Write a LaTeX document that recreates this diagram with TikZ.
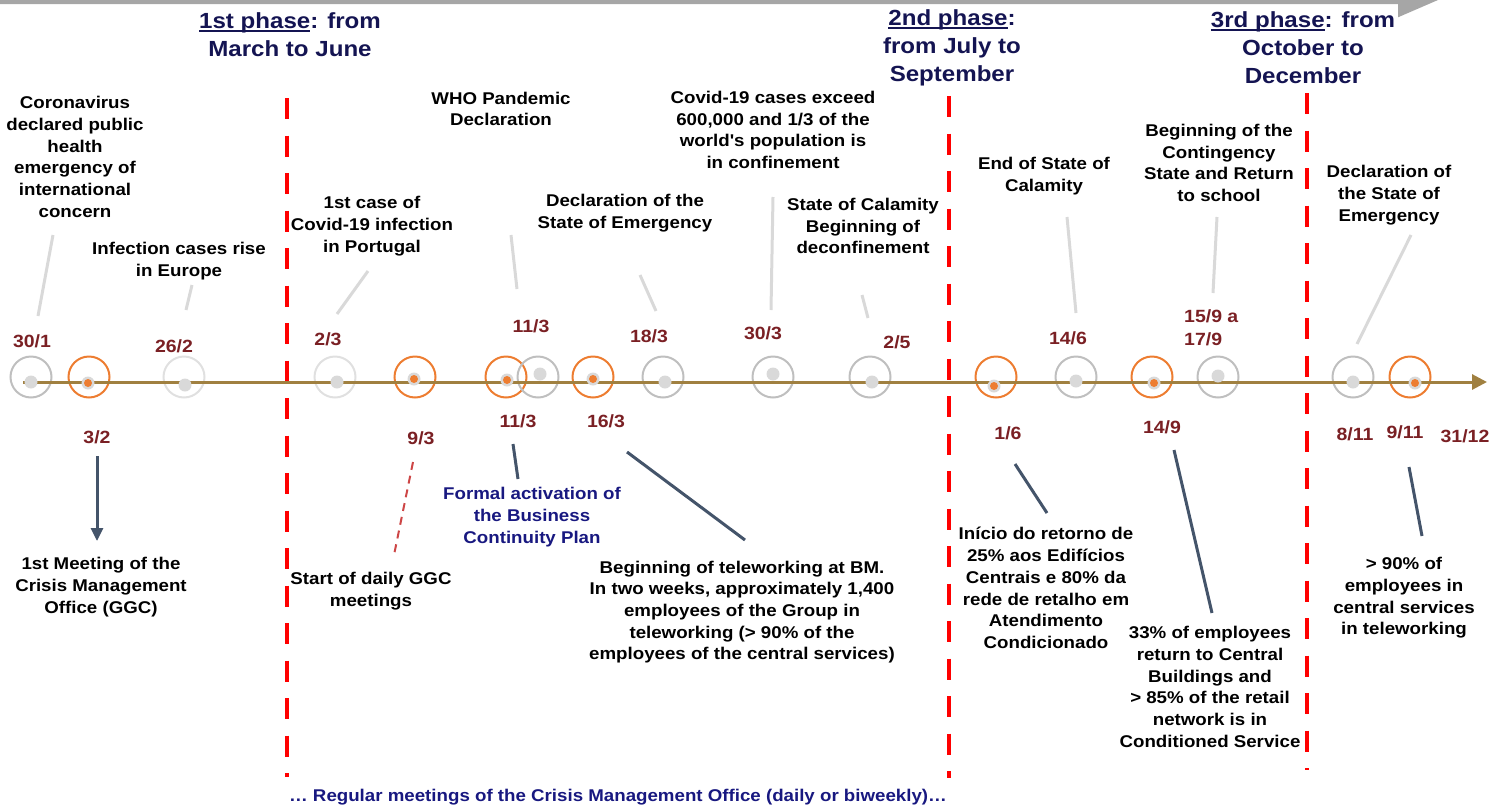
\documentclass[tikz,border=0pt]{standalone}
\usepackage{fontspec}
\setmainfont{Liberation Sans}
\newfontfamily\lab{Liberation Sans}[FakeStretch=1.1]
\usetikzlibrary{arrows.meta}
\newsavebox{\ulbox}
\newcommand\phul[1]{\sbox{\ulbox}{#1}\rlap{\rule[-3.5pt]{\wd\ulbox}{2pt}}\usebox{\ulbox}}
\definecolor{navy}{RGB}{20,20,82}
\definecolor{bluetxt}{RGB}{24,24,128}
\definecolor{datered}{RGB}{122,32,36}
\definecolor{ringgray}{RGB}{191,191,191}
\definecolor{lightring}{RGB}{224,224,224}
\definecolor{dotgray}{RGB}{217,217,217}
\definecolor{orng}{RGB}{237,125,49}
\definecolor{olive}{RGB}{160,128,64}
\definecolor{slate}{RGB}{68,84,106}
\definecolor{dashred}{RGB}{205,70,70}
\definecolor{bargray}{RGB}{166,166,166}
\begin{document}
\begin{tikzpicture}[x=1pt,y=-1pt,
  lbl/.style={font=\lab\bfseries\fontsize{17}{21.7}\selectfont, align=center, inner sep=0, text=black},
  bluelbl/.style={lbl, text=bluetxt},
  datelbl/.style={font=\lab\bfseries\fontsize{17.7}{23}\selectfont, text=datered, inner sep=0, align=left},
  phase/.style={font=\lab\bfseries\fontsize{21.9}{28}\selectfont, text=navy, align=center, inner sep=0},
  ring/.style={circle, draw=ringgray, line width=2pt, minimum size=41pt, inner sep=0},
  oring/.style={ring, draw=orng},
  lring/.style={ring, draw=lightring},
  phaseline/.style={red, line width=4pt, dash pattern=on 21pt off 16.5pt},
  lightcon/.style={dotgray, line width=3pt},
  darkcon/.style={slate, line width=3pt}
]
\useasboundingbox (0,0) rectangle (1502,809);
% top bar
\fill[bargray] (0,0) -- (1438,0) -- (1398,17.3) -- (1398,4) -- (0,4) -- cycle;

% phase titles
\node[phase] (ph1) at (290,35) {\phul{1st phase}: from\\March to June};
\node[phase] (ph2) at (952,48) {\phul{2nd phase}:\\from July to\\September};
\node[phase] (ph3) at (1303,48) {\phul{3rd phase}: from\\October to\\December};

% phase separators
\coordinate (s1a) at (287,98);  \coordinate (s1b) at (287,777);
\coordinate (s2a) at (949,96);  \coordinate (s2b) at (949,778);
\coordinate (s3a) at (1307,93); \coordinate (s3b) at (1307,770);
\draw[phaseline] (s1a) -- (s1b);
\draw[phaseline] (s2a) -- (s2b);
\draw[phaseline] (s3a) -- (s3b);

% rings
\node[ring]  (c1)  at (31,377) {};
\node[oring] (c2)  at (89,377) {};
\node[lring] (c3)  at (184,377) {};
\node[lring] (c4)  at (335,377) {};
\node[oring] (c5)  at (415,377) {};
\node[oring] (c6)  at (506,377) {};
\node[ring]  (c7)  at (538,377) {};
\node[oring] (c8)  at (593,377) {};
\node[ring]  (c9)  at (663,377) {};
\node[ring]  (c10) at (773,377) {};
\node[ring]  (c11) at (870,377) {};
\node[oring] (c12) at (996,377) {};
\node[ring]  (c13) at (1076,377) {};
\node[oring] (c14) at (1152,377) {};
\node[ring]  (c15) at (1218,377) {};
\node[ring]  (c16) at (1353,377) {};
\node[oring] (c17) at (1410,377) {};

% timeline
\coordinate (tl0) at (23,382);
\coordinate (tl1) at (1487,382);
\draw[olive, line width=3pt, -{Triangle[length=15pt,width=15pt]}] (tl0) -- (tl1);

% dots
\foreach \p in {(31,382),(185,385),(337,382),(540,374),(665,382),(773,374),(872,382),(1076,381),(1218,376),(1353,382)}
  \fill[dotgray] \p circle[radius=6.5pt];
\foreach \p in {(88,383),(414,379),(507,380),(593,379),(994,386),(1154,383),(1415,383)}
  {\fill[dotgray] \p circle[radius=6.5pt];
   \fill[orng] \p circle[radius=4pt];}

% dates above
\node[datelbl] (d1)  at (32,341) {30/1};
\node[datelbl] (d2)  at (174,346) {26/2};
\node[datelbl] (d3)  at (328,339) {2/3};
\node[datelbl] (d4)  at (531,326) {11/3};
\node[datelbl] (d5)  at (649,336) {18/3};
\node[datelbl] (d6)  at (763,333) {30/3};
\node[datelbl] (d7)  at (897,342) {2/5};
\node[datelbl] (d8)  at (1068,338) {14/6};
\node[datelbl, anchor=west] (d9) at (1184,328) {15/9 a\\17/9};
% dates below
\node[datelbl] (e1)  at (97,437) {3/2};
\node[datelbl] (e2)  at (421,438) {9/3};
\node[datelbl] (e3)  at (518,421) {11/3};
\node[datelbl] (e4)  at (606,421) {16/3};
\node[datelbl] (e5)  at (1008,433) {1/6};
\node[datelbl] (e6)  at (1162,427) {14/9};
\node[datelbl] (e7)  at (1355,434) {8/11};
\node[datelbl] (e8)  at (1405,432) {9/11};
\node[datelbl] (e9)  at (1465,436) {31/12};

% top labels
\node[lbl] (t1) at (75,157) {Coronavirus\\declared public\\health\\emergency of\\international\\concern};
\node[lbl] (t2) at (179,261) {Infection cases rise\\in Europe};
\node[lbl] (t3) at (372,226) {1st case of\\Covid-19 infection\\in Portugal};
\node[lbl] (t4) at (501,109) {WHO Pandemic\\Declaration};
\node[lbl] (t5) at (625,213) {Declaration of the\\State of Emergency};
\node[lbl] (t6) at (773,130) {Covid-19 cases exceed\\600,000 and 1/3 of the\\world's population is\\in confinement};
\node[lbl] (t7) at (863,226) {State of Calamity\\Beginning of\\deconfinement};
\node[lbl] (t8) at (1044,176) {End of State of\\Calamity};
\node[lbl] (t9) at (1219,163) {Beginning of the\\Contingency\\State and Return\\to school};
\node[lbl] (t10) at (1389,195) {Declaration of\\the State of\\Emergency};

% bottom labels
\node[lbl] (b1) at (101,587) {1st Meeting of the\\Crisis Management\\Office (GGC)};
\node[lbl] (b2) at (371,591) {Start of daily GGC\\meetings};
\node[bluelbl] (b3) at (532,517) {Formal activation of\\the Business\\Continuity Plan};
\node[lbl] (b4) at (742,612) {Beginning of teleworking at BM.\\In two weeks, approximately 1,400\\employees of the Group in\\teleworking (> 90\% of the\\employees of the central services)};
\node[lbl] (b5) at (1046,588) {Início do retorno de\\25\% aos Edifícios\\Centrais e 80\% da\\rede de retalho em\\Atendimento\\Condicionado};
\node[lbl] (b6) at (1210,687) {33\% of employees\\return to Central\\Buildings and\\> 85\% of the retail\\network is in\\Conditioned Service};
\node[lbl] (b7) at (1404,598) {> 90\% of\\employees in\\central services\\in teleworking};
\node[bluelbl] (b8) at (618,797) {… Regular meetings of the Crisis Management Office (daily or biweekly)…};

% light connectors (top)
\coordinate (u1a) at (53,235);   \coordinate (u1b) at (38,316);
\coordinate (u2a) at (192,285);  \coordinate (u2b) at (186,310);
\coordinate (u3a) at (368,271);  \coordinate (u3b) at (337,314);
\coordinate (u4a) at (511,235);  \coordinate (u4b) at (517,289);
\coordinate (u5a) at (640,275);  \coordinate (u5b) at (656,311);
\coordinate (u6a) at (773,197);  \coordinate (u6b) at (771,310);
\coordinate (u7a) at (862,295);  \coordinate (u7b) at (868,318);
\coordinate (u8a) at (1067,217); \coordinate (u8b) at (1076,313);
\coordinate (u9a) at (1217,217); \coordinate (u9b) at (1213,293);
\coordinate (u10a) at (1411,235); \coordinate (u10b) at (1357,344);
\foreach \i in {1,...,10} \draw[lightcon] (u\i a) -- (u\i b);

% dark connectors (bottom)
\coordinate (v1a) at (97,456);   \coordinate (v1b) at (97,541);
\coordinate (v3a) at (513,444);  \coordinate (v3b) at (518,479);
\coordinate (v4a) at (627,452);  \coordinate (v4b) at (745,540);
\coordinate (v5a) at (1015,464); \coordinate (v5b) at (1047,513);
\coordinate (v6a) at (1174,450); \coordinate (v6b) at (1212,613);
\coordinate (v7a) at (1409,467); \coordinate (v7b) at (1422,536);
\draw[darkcon, -{Triangle[length=13pt,width=12pt]}] (v1a) -- (v1b);
\draw[darkcon] (v3a) -- (v3b);
\draw[darkcon] (v4a) -- (v4b);
\draw[darkcon] (v5a) -- (v5b);
\draw[darkcon] (v6a) -- (v6b);
\draw[darkcon] (v7a) -- (v7b);
\coordinate (v2a) at (413,462);  \coordinate (v2b) at (394,555);
\draw[dashred, line width=2pt, dash pattern=on 8pt off 6pt] (v2a) -- (v2b);
\end{tikzpicture}
\end{document}
